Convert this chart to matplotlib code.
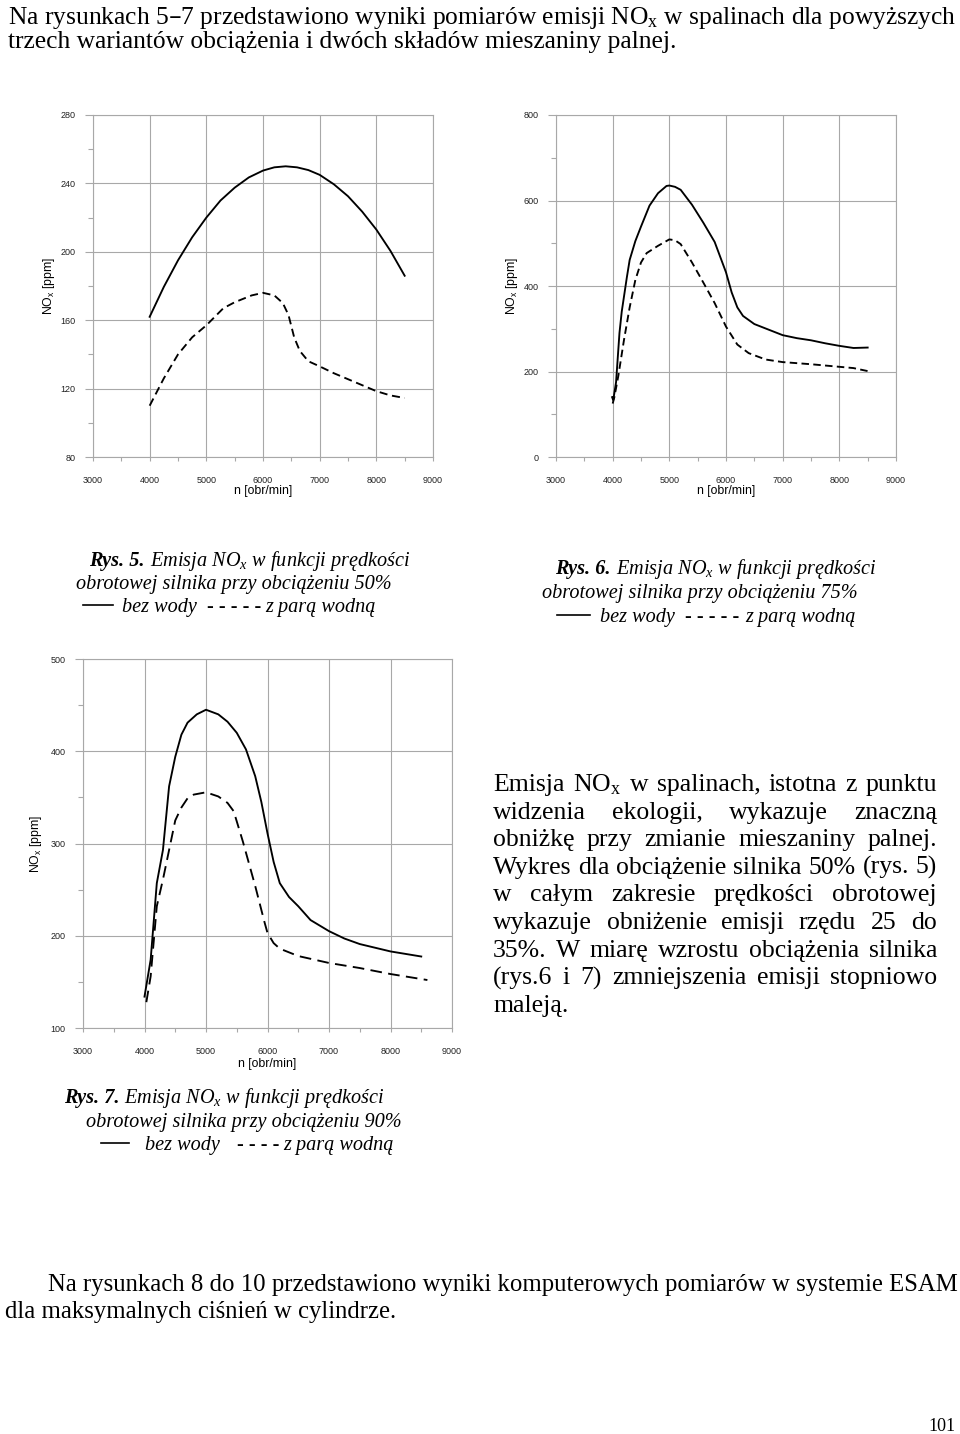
import matplotlib
matplotlib.use("Agg")
import matplotlib.pyplot as plt
from matplotlib.lines import Line2D

W, H = 960, 1434
SERIF = "Liberation Serif"
GRID = "#a8a8a8"

plt.rcParams["font.family"] = "Liberation Sans"
plt.rcParams["mathtext.default"] = "regular"

# Rys. 5 - obciazenie 50%
rpm5_dry = [4000, 4250, 4500, 4750, 5000, 5250, 5500, 5750, 6000, 6200, 6400, 6600,
            6800, 7000, 7250, 7500, 7750, 8000, 8250, 8500]
nox5_dry = [162, 179.5, 195, 208.5, 220, 230, 237.5, 243.5, 247.5, 249.4, 250, 249.4,
            247.8, 245, 239.5, 232.5, 223.5, 213, 200.5, 186]
rpm5_steam = [4000, 4250, 4500, 4750, 5000, 5300, 5500, 5800, 6000, 6200, 6350, 6450,
              6550, 6650, 6800, 7000, 7250, 7500, 7750, 8000, 8250, 8500]
nox5_steam = [110, 126, 140, 150, 157, 167, 170.5, 174.5, 176, 174.5, 170, 163,
              150, 142, 136, 133, 129, 125.5, 122, 118.5, 116, 114.5]

# Rys. 6 - obciazenie 75%
rpm6_dry = [3990, 4010, 4060, 4120, 4160, 4250, 4300, 4400, 4500, 4650, 4800, 4950,
            5000, 5100, 5200, 5400, 5600, 5800, 6000, 6100, 6200, 6300, 6500, 7000,
            7250, 7500, 7750, 8000, 8250, 8500]
nox6_dry = [140, 133, 175, 290, 340, 420, 461, 505, 539, 588, 617, 634,
            635, 632, 625, 590, 548, 503, 432, 385, 350, 330, 311, 285,
            278, 273, 266, 260, 255, 256]
rpm6_steam = [4000, 4030, 4100, 4200, 4300, 4400, 4500, 4600, 4800, 5000, 5100, 5200,
              5400, 5600, 5800, 6000, 6200, 6400, 6700, 7000, 7500, 8000, 8250, 8500]
nox6_steam = [125, 140, 190, 274, 350, 414, 455, 477, 494, 509, 507, 498,
              455, 408, 360, 305, 263, 243, 228, 222, 217, 211, 208, 201]

# Rys. 7 - obciazenie 90%
rpm7_dry = [4000, 4100, 4200, 4300, 4400, 4500, 4600, 4700, 4850, 5000, 5200, 5350,
            5500, 5650, 5800, 5900, 6000, 6100, 6200, 6350, 6500, 6700, 7000, 7250,
            7500, 8000, 8500]
nox7_dry = [134, 174, 257, 293, 362, 394, 418, 431, 440, 445, 440, 432,
            420, 402, 373, 345, 311, 280, 257, 242, 232, 217, 205, 197,
            191, 183, 177.5]
rpm7_steam = [4030, 4100, 4200, 4300, 4400, 4500, 4600, 4700, 4800, 5000, 5200, 5350,
              5450, 5600, 5800, 5950, 6000, 6100, 6200, 6500, 7000, 7500, 8000, 8600]
nox7_steam = [128, 156, 232, 261, 293, 325, 339, 349, 353, 355.5, 351, 344,
              335, 302, 254, 215, 203, 192, 186, 178, 170.5, 165, 158.5, 152]

x_ticks = [3000, 4000, 5000, 6000, 7000, 8000, 9000]

intro = ["Na rysunkach 5–7 przedstawiono wyniki pomiarów emisji NO$_x$ w spalinach dla powyższych",
         "trzech wariantów obciążenia i dwóch składów mieszaniny palnej."]
body = ["Emisja NO$_x$ w spalinach, istotna z punktu",
        "widzenia ekologii, wykazuje znaczną",
        "obniżkę przy zmianie mieszaniny palnej.",
        "Wykres dla obciążenie silnika 50% (rys. 5)",
        "w całym zakresie prędkości obrotowej",
        "wykazuje obniżenie emisji rzędu 25 do",
        "35%. W miarę wzrostu obciążenia silnika",
        "(rys.6 i 7) zmniejszenia  emisji stopniowo",
        "maleją."]
outro = ["Na rysunkach 8 do 10 przedstawiono wyniki komputerowych pomiarów w systemie ESAM",
         "dla maksymalnych ciśnień w cylindrze."]

fig = plt.figure(figsize=(W / 100, H / 100), dpi=100)
renderer = fig.canvas.get_renderer()


def put(x, y, s, **kw):
    return fig.text(x / W, 1 - y / H, s, **kw)


def text_width(s, **kw):
    t = put(0, 0, s, **kw)
    w = t.get_window_extent(renderer).width
    t.remove()
    return w


def fit_size(s, width, **kw):
    return 10 * width / text_width(s, fontsize=10, **kw)


def justify(x0, x1, y, line, **kw):
    words = line.split()
    widths = [text_width(w, **kw) for w in words]
    gap = (x1 - x0 - sum(widths)) / (len(words) - 1)
    x = x0
    for w, wd in zip(words, widths):
        put(x, y, w, **kw)
        x += wd + gap


def hline(x0, x1, y):
    fig.add_artist(Line2D([x0 / W, x1 / W], [1 - y / H, 1 - y / H],
                          color="black", lw=1.2))


def make_axes(left, right, top, bottom):
    return fig.add_axes([left / W, 1 - bottom / H, (right - left) / W, (bottom - top) / H])


def style_axes(ax, ylim, ystep):
    ax.set_xlim(3000, 9000)
    ax.set_ylim(*ylim)
    ax.set_xticks(x_ticks)
    ax.set_xticks([t + 500 for t in x_ticks[:-1]], minor=True)
    major = list(range(ylim[0], ylim[1] + 1, ystep))
    ax.set_yticks(major)
    ax.set_yticks([t + ystep / 2 for t in major[:-1]], minor=True)
    ax.grid(which="major", color=GRID, lw=0.8)
    for s in ax.spines.values():
        s.set_color(GRID)
        s.set_linewidth(0.8)
    ax.tick_params(which="both", direction="out", color=GRID, width=0.8,
                   labelsize=6.5, labelcolor="#222222")
    ax.tick_params(axis="y", which="major", length=6, pad=6.5)
    ax.tick_params(axis="y", which="minor", length=3.5)
    ax.tick_params(axis="x", which="major", length=3, pad=11)
    ax.tick_params(axis="x", which="minor", length=3)
    ax.set_xlabel("n [obr/min]", fontsize=8.8)
    ax.set_ylabel("NO$_x$ [ppm]", fontsize=8.8)
    ax.xaxis.set_label_coords(0.5, -0.082)
    ax.yaxis.set_label_coords(-0.106, 0.5)


# charts
ax5 = make_axes(93, 433, 115, 457)
ax5.plot(rpm5_dry, nox5_dry, color="black", lw=1.35)
ax5.plot(rpm5_steam, nox5_steam, color="black", lw=1.35, dashes=(4.3, 2.5))
style_axes(ax5, (80, 280), 40)

ax6 = make_axes(556, 896, 115, 457)
ax6.plot(rpm6_dry, nox6_dry, color="black", lw=1.35)
ax6.plot(rpm6_steam, nox6_steam, color="black", lw=1.35, dashes=(4.0, 2.3))
style_axes(ax6, (0, 800), 200)

ax7 = make_axes(83, 452, 659, 1028)
ax7.plot(rpm7_dry, nox7_dry, color="black", lw=1.35)
ax7.plot(rpm7_steam, nox7_steam, color="black", lw=1.35, dashes=(6.2, 3.4))
style_axes(ax7, (100, 500), 100)

# paragraphs
top_size = fit_size(intro[0], 949, family=SERIF)
put(8, 24, intro[0], family=SERIF, fontsize=top_size)
put(8, 48, intro[1], family=SERIF, fontsize=top_size)

body_size = fit_size(body[3], 444, family=SERIF)
for i, line in enumerate(body):
    y = 791 + i * 27.6
    if i < len(body) - 1:
        justify(493, 937, y, line, family=SERIF, fontsize=body_size)
    else:
        put(493, y, line, family=SERIF, fontsize=body_size)

out_size = fit_size(outro[0], 909, family=SERIF)
put(48, 1291, outro[0], family=SERIF, fontsize=out_size)
put(5, 1318, outro[1], family=SERIF, fontsize=out_size)

put(928, 1431, "101", family=SERIF, fontsize=13)

# captions
cap = dict(family=SERIF, style="italic")
cap_size = fit_size("obrotowej silnika przy obciążeniu 50%", 317, **cap)

put(89, 566, "Rys. 5.", weight="bold", fontsize=cap_size, **cap)
put(150, 566, "Emisja NO$_x$ w funkcji prędkości", fontsize=cap_size, **cap)
put(76, 589, "obrotowej silnika przy obciążeniu 50%", fontsize=cap_size, **cap)
hline(83, 113, 605)
put(122, 612, "bez wody", fontsize=cap_size, **cap)
put(207, 612, "- - - - -", fontsize=cap_size, **cap)
put(265, 612, "z parą wodną", fontsize=cap_size, **cap)

put(555, 574, "Rys. 6.", weight="bold", fontsize=cap_size, **cap)
put(616, 574, "Emisja NO$_x$ w funkcji prędkości", fontsize=cap_size, **cap)
put(542, 598, "obrotowej silnika przy obciążeniu 75%", fontsize=cap_size, **cap)
hline(557, 590, 615)
put(600, 622, "bez wody", fontsize=cap_size, **cap)
put(685, 622, "- - - - -", fontsize=cap_size, **cap)
put(745, 622, "z parą wodną", fontsize=cap_size, **cap)

put(64, 1103, "Rys. 7.", weight="bold", fontsize=cap_size, **cap)
put(124, 1103, "Emisja NO$_x$ w funkcji prędkości", fontsize=cap_size, **cap)
put(86, 1127, "obrotowej silnika przy obciążeniu 90%", fontsize=cap_size, **cap)
hline(101, 129, 1143)
put(145, 1150, "bez wody", fontsize=cap_size, **cap)
put(237, 1150, "- - - -", fontsize=cap_size, **cap)
put(283, 1150, "z parą wodną", fontsize=cap_size, **cap)

fig.savefig("out.png", dpi=100, facecolor="white")
